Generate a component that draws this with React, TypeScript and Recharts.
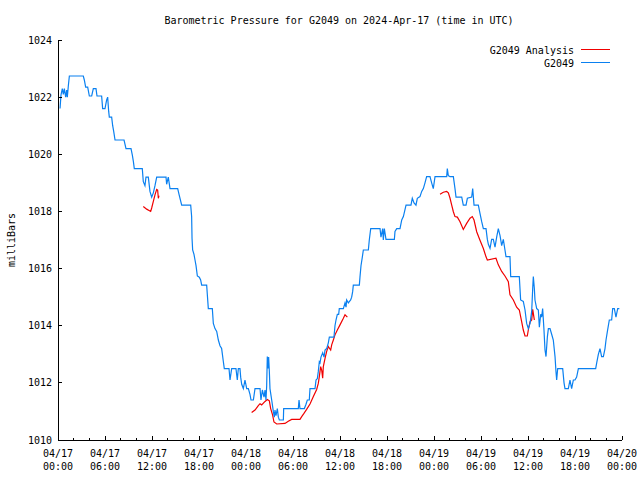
import React from 'react';
import { LineChart, Line, XAxis, YAxis, Legend } from 'recharts';

const FONT = '"DejaVu Sans Mono", "Liberation Mono", monospace';

const chartTitle = 'Barometric Pressure for G2049 on 2024-Apr-17 (time in UTC)';
const yAxisTitle = 'milliBars';
const seriesNames = ['G2049 Analysis', 'G2049'];
const seriesColors = ['#f00000', '#0a80f0'];

const xTickHours = [0, 2, 4, 6, 8, 10, 12, 14, 16, 18, 20, 22, 24, 26, 28, 30, 32, 34, 36, 38, 40, 42, 44, 46, 48, 50, 52, 54, 56, 58, 60, 62, 64, 66, 68, 70, 72];
const xTickDates = ['04/17', '04/17', '04/17', '04/17', '04/18', '04/18', '04/18', '04/18', '04/19', '04/19', '04/19', '04/19', '04/20'];
const xTickTimes = ['00:00', '06:00', '12:00', '18:00', '00:00', '06:00', '12:00', '18:00', '00:00', '06:00', '12:00', '18:00', '00:00'];
const yTicks = [1010, 1012, 1014, 1016, 1018, 1020, 1022, 1024];

// [hours since 04/17 00:00 UTC, millibars]
const blueApr17: [number, number][] = [
  [0.26, 1021.6], [0.38, 1022.07], [0.55, 1022.3], [0.68, 1022.1], [0.81, 1022.3], [0.98, 1022.0], [1.11, 1022.25], [1.19, 1022.0], [1.32, 1022.4], [1.45, 1022.74],
  [3.23, 1022.74], [3.36, 1022.6], [3.53, 1022.35], [3.79, 1022.35], [4.0, 1022.04], [4.3, 1022.04], [4.51, 1022.3], [4.85, 1022.3], [4.98, 1022.04], [5.57, 1022.04],
  [5.7, 1021.6], [6.0, 1021.6], [6.21, 1021.9], [6.34, 1022.0], [6.47, 1021.5], [6.55, 1021.3], [6.85, 1021.3], [6.98, 1021.0], [7.11, 1020.8], [7.28, 1020.5],
  [8.43, 1020.5], [8.68, 1020.2], [9.32, 1020.2], [9.49, 1019.97], [9.62, 1019.75], [9.74, 1019.5], [10.76, 1019.5], [10.89, 1019.04], [11.1, 1018.9], [11.23, 1019.2],
  [11.53, 1019.2], [11.74, 1018.7], [11.96, 1018.5], [12.17, 1018.65], [12.38, 1018.9], [12.6, 1019.2], [13.79, 1019.2], [13.87, 1018.95], [14.08, 1019.2], [14.3, 1018.8],
  [15.28, 1018.8], [15.45, 1018.6], [15.79, 1018.22], [16.94, 1018.22], [17.06, 1017.82], [17.11, 1017.06], [17.19, 1016.65], [17.36, 1016.5], [17.49, 1016.3], [17.62, 1016.1],
  [17.79, 1015.74], [18.04, 1015.7], [18.21, 1015.6], [18.34, 1015.42], [18.98, 1015.42], [19.06, 1015.1], [19.19, 1014.6], [19.7, 1014.6], [19.83, 1014.08], [20.04, 1013.9],
  [20.26, 1013.8], [20.47, 1013.5], [20.68, 1013.3], [20.89, 1013.2], [21.11, 1012.74], [21.23, 1012.5], [21.83, 1012.5], [21.96, 1012.1], [22.17, 1012.5], [22.72, 1012.5],
  [22.89, 1012.1], [23.02, 1012.5], [23.23, 1012.5], [23.32, 1012.2], [23.45, 1011.95], [23.66, 1011.8], [23.87, 1012.1],
];
const blueApr18: [number, number][] = [
  [24.09, 1011.8], [24.3, 1011.8], [24.51, 1011.6], [24.64, 1011.4], [24.94, 1011.4], [25.15, 1011.8], [25.79, 1011.8], [25.91, 1011.4], [26.09, 1011.75], [26.3, 1011.5],
  [26.43, 1011.75], [26.55, 1011.4], [26.64, 1011.9], [26.72, 1012.92], [26.81, 1012.5], [26.89, 1012.9], [26.98, 1012.4], [27.06, 1011.8], [27.28, 1011.4], [27.49, 1011.0],
  [27.62, 1010.8], [27.7, 1011.05], [27.83, 1010.85], [28.0, 1011.1], [28.13, 1010.8], [28.26, 1010.7], [28.77, 1010.7], [28.81, 1011.1], [30.68, 1011.1], [30.77, 1011.4],
  [30.89, 1011.1], [31.45, 1011.1], [31.66, 1011.25], [31.83, 1011.4], [32.08, 1011.4], [32.17, 1011.8], [32.81, 1011.8], [32.94, 1012.1], [33.11, 1012.15], [33.23, 1012.4],
  [33.36, 1012.74], [33.45, 1012.7], [33.57, 1012.9], [33.79, 1013.05], [33.96, 1012.9], [34.09, 1013.15], [34.3, 1013.2], [34.51, 1013.4], [34.64, 1013.6], [35.23, 1013.6],
  [35.36, 1014.0], [35.49, 1014.2], [35.66, 1014.4], [35.83, 1014.4], [35.91, 1014.6], [36.43, 1014.6], [36.64, 1014.8], [36.77, 1014.65], [36.85, 1014.9], [37.06, 1014.8],
  [37.36, 1014.9], [37.49, 1015.0], [37.62, 1015.2], [37.7, 1015.42], [38.47, 1015.42], [38.55, 1015.7], [38.68, 1016.1], [38.85, 1016.4], [38.98, 1016.65], [39.62, 1016.65],
  [39.74, 1017.0], [39.92, 1017.4], [41.11, 1017.4], [41.23, 1017.1], [41.45, 1017.4], [41.53, 1017.0], [41.66, 1017.4], [41.87, 1017.02], [42.94, 1017.02], [43.02, 1017.3],
  [43.24, 1017.4], [43.66, 1017.4], [43.88, 1017.7], [44.09, 1017.82], [44.43, 1018.22], [45.06, 1018.22], [45.23, 1018.46], [45.45, 1018.3], [45.7, 1018.22], [45.87, 1018.46],
  [46.21, 1018.52], [46.43, 1018.7], [46.64, 1018.8], [46.85, 1019.0], [47.06, 1019.22], [47.49, 1019.22], [47.7, 1019.0], [47.91, 1018.8],
];
const blueApr19: [number, number][] = [
  [48.13, 1019.22], [49.62, 1019.22], [49.7, 1019.5], [49.83, 1019.25], [50.04, 1019.22], [50.47, 1019.22], [50.68, 1018.8], [50.81, 1018.5], [51.54, 1018.5], [51.74, 1018.22],
  [52.09, 1018.22], [52.26, 1018.46], [52.81, 1018.5], [52.94, 1018.8], [53.11, 1018.22], [53.66, 1018.22], [53.87, 1017.93], [54.09, 1017.64], [54.3, 1017.4], [54.64, 1017.4],
  [54.81, 1017.02], [54.94, 1016.85], [55.15, 1016.71], [55.36, 1017.02], [55.57, 1017.02], [55.79, 1016.75], [56.0, 1017.1], [56.21, 1017.4], [56.43, 1017.15], [56.64, 1016.8],
  [56.85, 1017.02], [57.06, 1016.65], [57.19, 1016.42], [57.7, 1016.42], [57.79, 1015.72], [58.89, 1015.72], [59.06, 1014.9], [59.4, 1014.85], [59.62, 1014.55], [59.83, 1014.08],
  [60.04, 1013.9], [60.26, 1014.08], [60.47, 1014.5], [60.6, 1015.3], [60.68, 1015.72], [60.81, 1015.3], [60.89, 1014.9], [61.11, 1014.6], [61.32, 1014.55], [61.45, 1013.95],
  [61.62, 1014.4], [61.74, 1014.3], [61.87, 1014.6], [62.04, 1013.85], [62.17, 1013.15], [62.3, 1012.92], [62.47, 1013.6], [62.6, 1013.9], [62.81, 1013.9], [63.02, 1013.7],
  [63.23, 1013.5], [63.45, 1012.92], [63.57, 1012.4], [63.66, 1012.1], [63.79, 1012.5], [64.43, 1012.5], [64.6, 1012.0], [64.72, 1011.8], [65.15, 1011.8], [65.36, 1012.1],
  [65.57, 1011.8], [65.79, 1012.1], [66.0, 1012.1], [66.21, 1012.2], [66.43, 1012.5], [68.64, 1012.5], [68.77, 1012.7], [68.98, 1013.0], [69.19, 1013.2], [69.4, 1012.92],
  [69.62, 1012.92], [69.83, 1013.2], [69.96, 1013.5], [70.13, 1013.79], [70.38, 1014.2], [70.68, 1014.2], [70.81, 1014.6], [71.02, 1014.6], [71.23, 1014.3], [71.45, 1014.6],
  [71.66, 1014.6],
];

const redRun1: [number, number][] = [
  [10.89, 1018.17], [11.32, 1018.08], [11.83, 1018.0], [11.96, 1018.12], [12.17, 1018.35], [12.38, 1018.58], [12.6, 1018.77], [12.72, 1018.75], [12.81, 1018.46], [12.89, 1018.55],
];
const redRun2: [number, number][] = [
  [24.72, 1010.96], [25.15, 1011.05], [25.57, 1011.2], [25.79, 1011.27], [26.0, 1011.23], [26.43, 1011.35], [26.72, 1011.42], [26.98, 1011.37], [27.15, 1011.1], [27.4, 1010.87],
  [27.57, 1010.63], [27.92, 1010.56], [28.98, 1010.58], [29.4, 1010.66], [29.83, 1010.72], [30.89, 1010.72], [31.11, 1010.82], [31.4, 1010.93], [31.74, 1011.07], [32.17, 1011.26],
  [32.6, 1011.52], [33.02, 1011.77], [33.23, 1011.98], [33.36, 1012.22], [33.53, 1012.57], [33.66, 1012.45], [33.79, 1012.16], [33.87, 1012.57], [34.09, 1012.86], [34.3, 1013.1],
  [34.51, 1013.27], [34.81, 1013.15], [34.94, 1013.33], [35.15, 1013.5], [35.36, 1013.68], [35.66, 1013.85], [36.0, 1014.03], [36.43, 1014.26], [36.64, 1014.38], [36.94, 1014.3],
];
const redRun3: [number, number][] = [
  [48.77, 1018.6], [49.19, 1018.67], [49.62, 1018.7], [49.83, 1018.65], [50.04, 1018.47], [50.26, 1018.22], [50.47, 1017.99], [50.68, 1017.82], [50.98, 1017.8], [51.32, 1017.64],
  [51.74, 1017.37], [52.17, 1017.58], [52.6, 1017.76], [52.89, 1017.82], [53.11, 1017.7], [53.45, 1017.29], [53.87, 1016.99], [54.3, 1016.7], [54.64, 1016.41], [54.81, 1016.3],
  [55.91, 1016.36], [56.21, 1016.13], [56.64, 1015.9], [57.06, 1015.74], [57.49, 1015.54], [57.7, 1015.08], [58.13, 1014.9], [58.55, 1014.65], [58.89, 1014.55], [59.19, 1014.14],
  [59.4, 1013.85], [59.62, 1013.64], [59.91, 1013.64], [60.04, 1013.85], [60.26, 1014.14], [60.47, 1014.2], [60.6, 1014.57], [60.68, 1014.43], [60.81, 1014.2],
];

type Pt = { t: number; p: number | null };
const toPts = (arr: [number, number][]): Pt[] => arr.map(([t, p]) => ({ t, p }));
const gap = (t: number): Pt => ({ t, p: null });

const blueData: Pt[] = [...toPts(blueApr17), ...toPts(blueApr18), ...toPts(blueApr19)];
const redData: Pt[] = [...toPts(redRun1), gap(18), ...toPts(redRun2), gap(42), ...toPts(redRun3)];

const BottomTick = (props: any) => {
  const { x, y, payload } = props;
  const v = payload.value as number;
  const major = v % 6 === 0;
  const i = v / 6;
  return (
    <g>
      <line x1={x} x2={x} y1={y} y2={y - (major ? 4 : 2)} stroke="#000" shapeRendering="crispEdges" />
      {major && (
        <text x={x} y={y} textAnchor="middle" fontFamily={FONT} fontSize={10} fill="#000">
          <tspan x={x} dy={17}>{xTickDates[i]}</tspan>
          <tspan x={x} dy={13}>{xTickTimes[i]}</tspan>
        </text>
      )}
    </g>
  );
};

const TopTick = (props: any) => {
  const { x, y, payload } = props;
  const major = (payload.value as number) % 6 === 0;
  return <line x1={x} x2={x} y1={y} y2={y + (major ? 4 : 2)} stroke="#000" shapeRendering="crispEdges" />;
};

const LeftTick = (props: any) => {
  const { x, y, payload } = props;
  return (
    <g>
      <line x1={x} x2={x + 4} y1={y} y2={y} stroke="#000" shapeRendering="crispEdges" />
      <text x={x - 6} y={y} dy={3.6} textAnchor="end" fontFamily={FONT} fontSize={10} fill="#000">
        {payload.value}
      </text>
    </g>
  );
};

const RightTick = (props: any) => {
  const { x, y } = props;
  return <line x1={x} x2={x - 4} y1={y} y2={y} stroke="#000" shapeRendering="crispEdges" />;
};

const LegendBox = () => (
  <svg width={160} height={30} style={{ display: 'block' }}>
    {seriesNames.map((name, i) => (
      <g key={name}>
        <text x={104} y={13.6 + 13 * i} textAnchor="end" fontFamily={FONT} fontSize={10} fill="#000">
          {name}
        </text>
        <line x1={111} x2={140} y1={9.5 + 13 * i} y2={9.5 + 13 * i} stroke={seriesColors[i]} strokeWidth={1} shapeRendering="crispEdges" />
      </g>
    ))}
  </svg>
);

const axisLine = { stroke: '#000', strokeWidth: 1, shapeRendering: 'crispEdges' } as any;

export default function App() {
  return (
    <div style={{ position: 'absolute', left: 0, top: 0, width: 640, height: 480, background: '#fff' }}>
      <LineChart width={640} height={480} margin={{ top: 40, right: 18, bottom: 0, left: 0 }}>
        <XAxis
          xAxisId="b"
          type="number"
          dataKey="t"
          domain={[0, 72]}
          allowDataOverflow
          ticks={xTickHours}
          interval={0}
          orientation="bottom"
          height={40}
          tickSize={0}
          tickMargin={0}
          tickLine={false}
          axisLine={axisLine}
          tick={(p: any) => <BottomTick {...p} />}
        />
        <XAxis
          xAxisId="t"
          type="number"
          dataKey="t"
          domain={[0, 72]}
          allowDataOverflow
          ticks={xTickHours}
          interval={0}
          orientation="top"
          height={0}
          tickSize={0}
          tickMargin={0}
          tickLine={false}
          axisLine={axisLine}
          tick={(p: any) => <TopTick {...p} />}
        />
        <YAxis
          yAxisId="l"
          type="number"
          domain={[1010, 1024]}
          allowDataOverflow
          ticks={yTicks}
          interval={0}
          orientation="left"
          width={58}
          tickSize={0}
          tickMargin={0}
          tickLine={false}
          axisLine={axisLine}
          tick={(p: any) => <LeftTick {...p} />}
        />
        <YAxis
          yAxisId="r"
          type="number"
          domain={[1010, 1024]}
          allowDataOverflow
          ticks={yTicks}
          interval={0}
          orientation="right"
          width={0}
          tickSize={0}
          tickMargin={0}
          tickLine={false}
          axisLine={axisLine}
          tick={(p: any) => <RightTick {...p} />}
        />
        <Legend
          layout="vertical"
          align="center"
          verticalAlign="middle"
          content={() => <LegendBox />}
          wrapperStyle={{ position: 'absolute', left: 470, top: 40, width: 160, height: 30 }}
        />
        <Line
          xAxisId="b"
          yAxisId="l"
          data={redData}
          dataKey="p"
          name={seriesNames[0]}
          type="linear"
          stroke={seriesColors[0]}
          strokeWidth={1.2}
          dot={false}
          activeDot={false}
          connectNulls={false}
          isAnimationActive={false}
        />
        <Line
          xAxisId="b"
          yAxisId="l"
          data={blueData}
          dataKey="p"
          name={seriesNames[1]}
          type="linear"
          stroke={seriesColors[1]}
          strokeWidth={1.2}
          dot={false}
          activeDot={false}
          connectNulls={false}
          isAnimationActive={false}
        />
      </LineChart>
      <svg width={640} height={480} style={{ position: 'absolute', left: 0, top: 0, pointerEvents: 'none' }}>
        <text x={339} y={24} textAnchor="middle" fontFamily={FONT} fontSize={10} fill="#000">
          {chartTitle}
        </text>
        <text x={15} y={240} transform="rotate(-90 15 240)" textAnchor="middle" fontFamily={FONT} fontSize={10} fill="#000">
          {yAxisTitle}
        </text>
      </svg>
    </div>
  );
}
